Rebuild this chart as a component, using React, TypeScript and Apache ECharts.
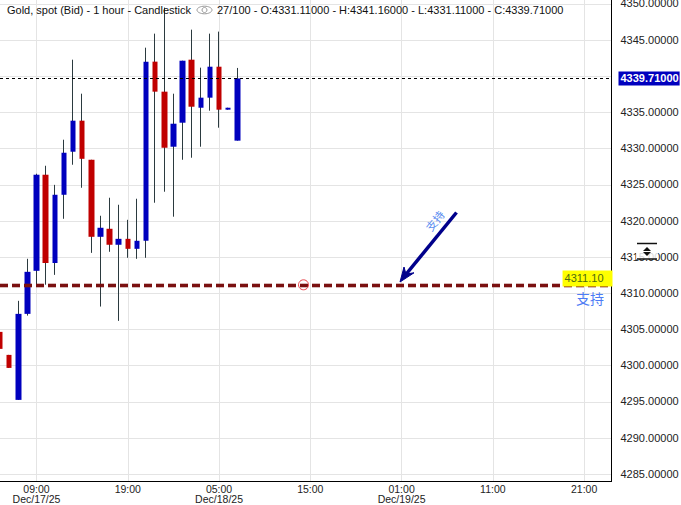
import React, { useEffect, useRef } from "react";
import * as echarts from "echarts";

const hours = ["05:00","06:00","07:00","08:00","09:00","10:00","11:00","12:00","13:00","14:00","15:00","16:00","17:00","18:00","19:00","20:00","21:00","22:00","23:00","00:00","01:00","02:00","03:00","04:00"];
const categories: string[] = [];
for (let i = 0; i < 68; i++) categories.push(`${i}|${hours[i % 24]}`);

const tickDates: Record<number, string> = { 4: "Dec/17/25", 24: "Dec/18/25", 44: "Dec/19/25" };
const yTicks = [4285,4290,4295,4300,4305,4310,4315,4320,4325,4330,4335,4340,4345,4350];
const yLabelTicks = [4285,4290,4295,4300,4305,4310,4315,4320,4325,4330,4335,4345,4350];

const opens =  [4304.68,4301.5,4295.28,4307.17,4313.12,4326.4,4314.2,4323.63,4329.58,4333.87,4328.47,4317.82,4318.93,4316.72,4317.54,4316.16,4317.27,4342.03,4337.88,4330.27,4333.59,4342.3,4335.66,4337.05,4341.33,4335.39,4331.11];
const closes = [4302.33,4299.7,4307.17,4312.98,4326.4,4314.2,4323.63,4329.44,4333.87,4328.6,4317.82,4319.07,4316.72,4317.54,4316.16,4317.27,4342.03,4337.88,4330.13,4333.45,4342.16,4335.8,4337.05,4341.33,4335.39,4335.66,4339.71];
const lows =   [4298.74,4299.7,4295.28,4306.93,4311.14,4311.2,4312.56,4320.31,4327.78,4324.6,4315.6,4308.18,4315.75,4306.2,4314.92,4314.78,4314.92,4322.53,4324.05,4320.6,4328.47,4328.75,4330.27,4335.25,4332.9,4335.39,4331.11];
const highs =  [4305.51,4301.5,4308.97,4314.78,4326.54,4327.64,4325.0,4331.24,4342.3,4337.6,4328.47,4320.73,4323.22,4322.25,4320.17,4323.08,4343.96,4345.9,4349.5,4337.6,4342.16,4346.45,4341.2,4345.9,4346.18,4335.66,4341.16];

const lastPrice = 4339.71;
const supportPrice = 4311.1;
const titleMain = "Gold, spot (Bid) - 1 hour - Candlestick";
const titleInfo = "27/100 - O:4331.11000 - H:4341.16000 - L:4331.11000 - C:4339.71000";
const supportText = "支持";

const wickData = opens.map((o, i) => [o, closes[i], lows[i], highs[i]]);
const bodyData = opens.map((o, i) => {
  const c = closes[i];
  return [o, c, Math.min(o, c), Math.max(o, c)];
});

const FONT = '"Liberation Sans", Arial, sans-serif';
const CJK = '"Noto Sans CJK SC", sans-serif';

export default function App() {
  const ref = useRef<HTMLDivElement>(null);
  useEffect(() => {
    const chart = echarts.init(ref.current!, undefined, { renderer: "svg" });
    chart.setOption({
      animation: false,
      backgroundColor: "#ffffff",
      title: [
        { text: titleMain, left: 7, top: 4, padding: 0, textStyle: { fontFamily: FONT, fontSize: 11, fontWeight: "normal", color: "#111111" }, z: 8 },
        { text: titleInfo, left: 217, top: 4, padding: 0, textStyle: { fontFamily: FONT, fontSize: 11, fontWeight: "normal", color: "#111111" }, z: 8 },
      ],
      grid: { left: 0, right: 69.5, top: 0, bottom: 23.5, outerBoundsMode: "none" },
      xAxis: {
        type: "category",
        data: categories,
        boundaryGap: false,
        axisTick: { show: false },
        axisLine: { show: true, lineStyle: { color: "#000000", width: 1 } },
        splitLine: {
          show: true,
          interval: (i: number) => (i - 4) % 10 === 0 && i >= 4,
          lineStyle: { color: "#e4e4e4", width: 1 },
        },
        axisLabel: {
          interval: (i: number) => (i - 4) % 10 === 0 && i >= 4,
          margin: 2,
          fontFamily: FONT,
          fontSize: 10.5,
          lineHeight: 10.5,
          color: "#222222",
          hideOverlap: false,
          formatter: (v: string) => {
            const [idx, h] = v.split("|");
            const d = tickDates[Number(idx)];
            return d ? `${h}\n${d}` : h;
          },
        },
      },
      yAxis: {
        type: "value",
        position: "right",
        min: 4284.0,
        max: 4350.55,
        axisLine: { show: true, lineStyle: { color: "#000000", width: 1 } },
        axisTick: { show: false, customValues: yTicks },
        splitLine: { show: true, lineStyle: { color: "#e4e4e4", width: 1 } },
        axisLabel: {
          customValues: yLabelTicks,
          margin: 9,
          fontFamily: FONT,
          fontSize: 11,
          color: "#222222",
          verticalAlign: "bottom",
          lineHeight: 1,
          formatter: (v: number) => v.toFixed(5),
        },
      },
      series: [
        {
          type: "candlestick",
          name: "wicks",
          data: wickData,
          barWidth: 1,
          itemStyle: { color: "#2b3a3f", color0: "#2b3a3f", borderColor: "#2b3a3f", borderColor0: "#2b3a3f", borderWidth: 1 },
          z: 2,
        },
        {
          type: "candlestick",
          name: "bodies",
          data: bodyData,
          barWidth: 6,
          itemStyle: { color: "#0000be", color0: "#c00000", borderColor: "#0000be", borderColor0: "#c00000", borderWidth: 0 },
          z: 3,
          markLine: {
            silent: true,
            symbol: "none",
            animation: false,
            z: 5,
            data: [
              {
                yAxis: lastPrice,
                lineStyle: { color: "#000000", width: 1, type: [3, 3] },
                label: {
                  show: true,
                  position: "end",
                  distance: 7,
                  formatter: () => lastPrice.toFixed(5),
                  color: "#ffffff",
                  fontFamily: FONT,
                  fontSize: 11,
                  fontWeight: "bold",
                  backgroundColor: "#0000be",
                  padding: [2, 1, 1, 2],
                },
              },
              {
                yAxis: supportPrice,
                lineStyle: { color: "#7a1616", width: 5, opacity: 0.3, type: [8, 4] },
                label: { show: false },
              },
              {
                yAxis: supportPrice,
                lineStyle: { color: "#7a1010", width: 3, type: [8, 4] },
                label: {
                  show: true,
                  position: "insideEndTop",
                  distance: -1,
                  formatter: () => supportPrice.toFixed(2),
                  color: "#4c6a10",
                  fontFamily: FONT,
                  fontSize: 11,
                  backgroundColor: "#ffff00",
                  padding: [2, 9, 3, 2],
                },
              },
            ],
          },
        },
      ],
      graphic: [
        { type: "ellipse", shape: { cx: 204.5, cy: 10, rx: 7.5, ry: 3.8 }, style: { fill: "none", stroke: "#9a9a9a", lineWidth: 1 }, z: 20 },
        { type: "circle", shape: { cx: 204.5, cy: 10, r: 2.5 }, style: { fill: "none", stroke: "#9a9a9a", lineWidth: 1 }, z: 20 },
        { type: "circle", shape: { cx: 303.5, cy: 284.8, r: 5 }, style: { fill: "none", stroke: "#e8444a", lineWidth: 1 }, z: 20 },
        { type: "line", shape: { x1: 456.5, y1: 212.5, x2: 403, y2: 278 }, style: { stroke: "#00008b", lineWidth: 3.5 }, z: 20 },
        { type: "polygon", shape: { points: [[400, 282], [404, 267], [406, 274], [414, 272.8]] }, style: { fill: "#00008b", stroke: "#00008b", lineWidth: 1 }, z: 20 },
        { type: "text", x: 434.5, y: 220.5, rotation: 0.9, style: { text: supportText, fontFamily: CJK, fontSize: 11, fill: "#5a8cf0", align: "center", verticalAlign: "middle" }, z: 20 },
        { type: "text", x: 590, y: 298, style: { text: supportText, fontFamily: CJK, fontSize: 14, fill: "#4d7cf5", align: "center", verticalAlign: "middle" }, z: 20 },
        { type: "rect", shape: { x: 636, y: 244, width: 22, height: 15 }, style: { fill: "rgba(255,255,255,0.82)" }, z: 20 },
        { type: "line", shape: { x1: 637, y1: 243.5, x2: 657, y2: 243.5 }, style: { stroke: "#111111", lineWidth: 1.5 }, z: 21 },
        { type: "line", shape: { x1: 637, y1: 259, x2: 657, y2: 259 }, style: { stroke: "#111111", lineWidth: 1.5 }, z: 21 },
        { type: "polygon", shape: { points: [[647, 247], [651, 251], [643, 251]] }, style: { fill: "#111111" }, z: 21 },
        { type: "polygon", shape: { points: [[647, 256], [651, 252], [643, 252]] }, style: { fill: "#111111" }, z: 21 },
      ],
    });
    return () => chart.dispose();
  }, []);
  return <div ref={ref} style={{ position: "absolute", left: 0, top: 0, width: 681, height: 505 }} />;
}
